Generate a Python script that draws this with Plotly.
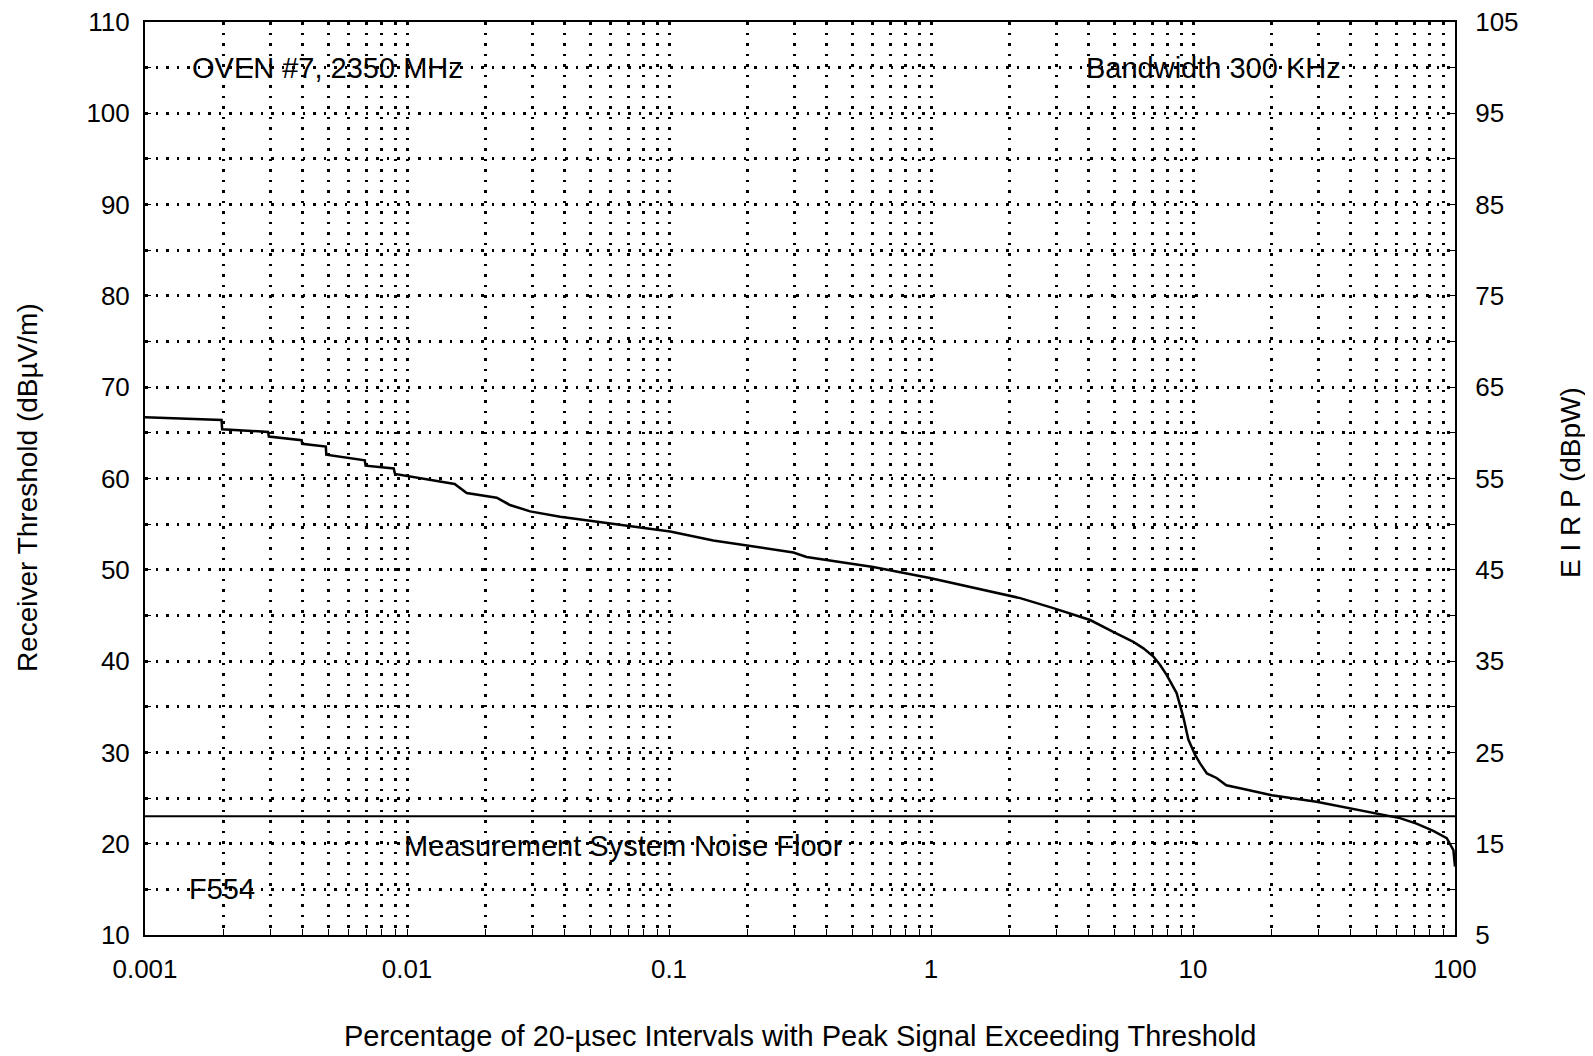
import plotly.graph_objects as go

# percentage of intervals (x) vs receiver threshold dBuV/m (y)
pct = [0.001, 0.00196, 0.00197, 0.00295, 0.00297, 0.00396, 0.00398, 0.0049,
       0.00492, 0.0069, 0.00695, 0.0089, 0.0090, 0.0152, 0.0169, 0.022,
       0.0247, 0.0295, 0.0384, 0.0457, 0.101, 0.1476, 0.2985, 0.335, 0.602,
       0.99, 1.83, 2.19, 2.93, 4.05, 4.96, 5.92, 6.47, 7.06, 7.48, 7.93, 8.66,
       9.18, 9.6, 10.2, 10.64, 11.3, 12.3, 13.4, 15.6, 20, 29.6, 39.7, 50.2,
       61.6, 71.3, 82.6, 93, 98.6, 100]
threshold = [66.7, 66.4, 65.4, 65.1, 64.6, 64.2, 63.8, 63.5, 62.6, 62.0, 61.4,
             61.1, 60.5, 59.4, 58.4, 57.9, 57.1, 56.4, 55.8, 55.5, 54.2, 53.2,
             51.9, 51.4, 50.3, 49.1, 47.4, 46.9, 45.8, 44.5, 43.2, 42.1, 41.4,
             40.5, 39.6, 38.5, 36.5, 33.9, 31.4, 29.7, 28.8, 27.7, 27.2, 26.4,
             26.0, 25.3, 24.6, 23.9, 23.3, 22.8, 22.2, 21.4, 20.6, 19.3, 17.5]

noise_floor = 23
x_ticks = [0.001, 0.01, 0.1, 1, 10, 100]
x_labels = ["0.001", "0.01", "0.1", "1", "10", "100"]
x_minor = [m * d for d in [0.001, 0.01, 0.1, 1, 10] for m in range(2, 10)]
y_ticks = list(range(10, 111, 10))
eirp_ticks = list(range(5, 106, 10))

FONT = "Liberation Sans, Arial, sans-serif"
DOT = "2.5px,8px"
GW = 2.5

fig = go.Figure()
fig.add_trace(go.Scatter(x=[0.001, 100], y=[noise_floor, noise_floor], mode="lines",
                         line=dict(color="black", width=2), showlegend=False))
fig.add_trace(go.Scatter(x=pct, y=threshold, mode="lines",
                         line=dict(color="black", width=2.5), showlegend=False))
# invisible trace to activate right axis
fig.add_trace(go.Scatter(x=[0.001], y=[5], yaxis="y2", mode="markers",
                         marker=dict(opacity=0), showlegend=False, hoverinfo="skip"))

# page body adds an 8px offset, margins compensate for it
fig.update_layout(
    width=1593, height=1056,
    margin=dict(l=137, r=146, t=14, b=129, autoexpand=False),
    paper_bgcolor="white", plot_bgcolor="white",
    font=dict(family=FONT, size=26, color="black"),
    xaxis=dict(type="log", range=[-3, 2], tickvals=x_ticks, ticktext=x_labels,
               showline=True, linecolor="black", linewidth=2, mirror=True,
               ticks="inside", ticklen=6, tickcolor="black",
               showgrid=True, gridcolor="black", gridwidth=GW, griddash=DOT,
               minor=dict(tickvals=x_minor, ticks="inside", ticklen=6,
                          tickcolor="black", showgrid=True, gridcolor="black",
                          gridwidth=GW, griddash=DOT),
               zeroline=False, ticklabelstandoff=10, ticklabeloverflow="allow",
               automargin=False),
    yaxis=dict(range=[10, 110], tickvals=y_ticks,
               showline=True, linecolor="black", linewidth=2,
               ticks="inside", ticklen=6, tickcolor="black",
               showgrid=True, gridcolor="black", gridwidth=GW, griddash=DOT,
               minor=dict(dtick=5, ticks="inside", ticklen=6, tickcolor="black",
                          showgrid=True, gridcolor="black", gridwidth=GW, griddash=DOT),
               zeroline=False, ticklabelstandoff=8, ticklabeloverflow="allow",
               automargin=False),
    yaxis2=dict(range=[5, 105], tickvals=eirp_ticks, overlaying="y", side="right",
                showline=True, linecolor="black", linewidth=2,
                ticks="inside", ticklen=6, tickcolor="black",
                minor=dict(dtick=5, ticks="inside", ticklen=6, tickcolor="black"),
                showgrid=False, zeroline=False, ticklabelstandoff=13,
                ticklabeloverflow="allow", automargin=False),
)

fig.add_annotation(x=-0.0897, y=0.49, xref="paper", yref="paper", textangle=-90,
                   text="Receiver Threshold (dB\u00b5V/m)", showarrow=False,
                   xanchor="center", yanchor="middle", font=dict(size=28))
fig.add_annotation(x=(1570 - 145) / 1310, y=0.495, xref="paper", yref="paper", textangle=-90,
                   text="E I R P (dBpW)", showarrow=False,
                   xanchor="center", yanchor="middle", font=dict(size=28))
fig.add_annotation(x=0.5, y=-(1036 - 935) / 913, xref="paper", yref="paper",
                   text="Percentage of 20-\u00b5sec Intervals with Peak Signal Exceeding Threshold",
                   showarrow=False, xanchor="center", yanchor="middle", font=dict(size=29))

fig.add_annotation(x=-2.83, y=105, text="OVEN #7, 2350 MHz", showarrow=False,
                   xanchor="left", yanchor="middle", font=dict(size=29))
fig.add_annotation(x=1.573, y=105, text="Bandwidth 300 KHz", showarrow=False,
                   xanchor="right", yanchor="middle", font=dict(size=29))
fig.add_annotation(x=-2.02, y=19.8, text="Measurement System Noise Floor", showarrow=False,
                   xanchor="left", yanchor="middle", font=dict(size=29))
fig.add_annotation(x=-2.84, y=15, text="F554", showarrow=False,
                   xanchor="left", yanchor="middle", font=dict(size=29))

fig.write_html("out.html")
